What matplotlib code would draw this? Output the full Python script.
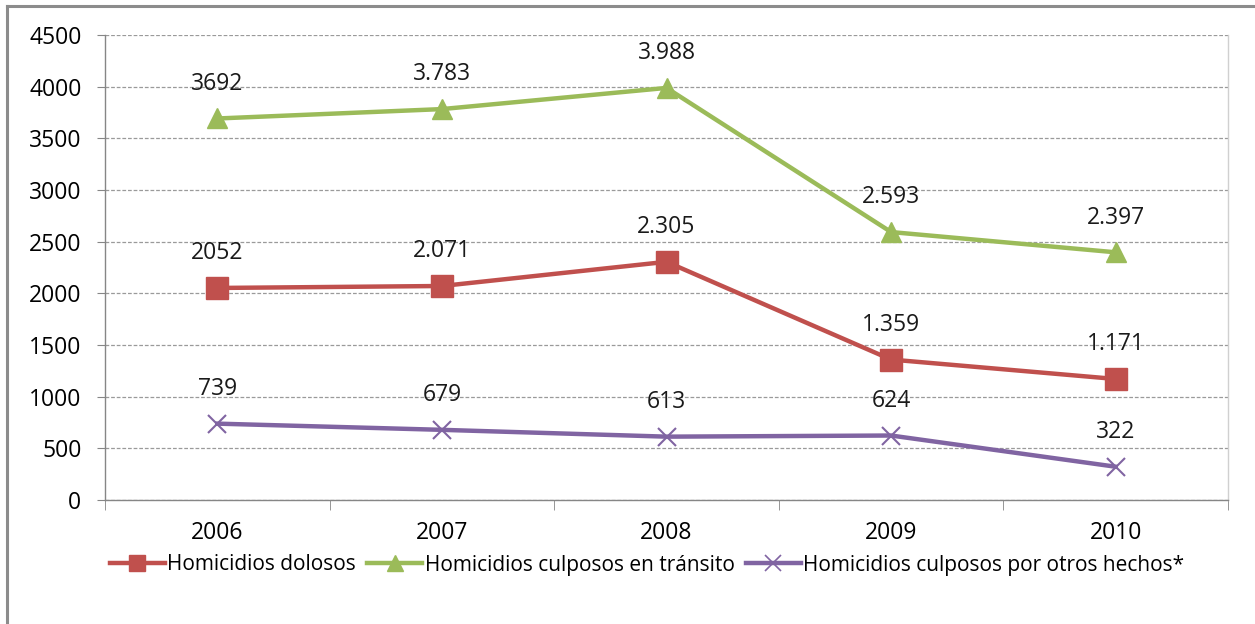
import matplotlib
matplotlib.use("Agg")
import matplotlib.pyplot as plt
from matplotlib.lines import Line2D
from matplotlib import font_manager

years = ["2006", "2007", "2008", "2009", "2010"]
dolosos = [2052, 2071, 2305, 1359, 1171]
transito = [3692, 3783, 3988, 2593, 2397]
otros = [739, 679, 613, 624, 322]
lbl_dolosos = ["2052", "2.071", "2.305", "1.359", "1.171"]
lbl_transito = ["3692", "3.783", "3.988", "2.593", "2.397"]
lbl_otros = ["739", "679", "613", "624", "322"]
names = ["Homicidios dolosos", "Homicidios culposos en tránsito",
         "Homicidios culposos por otros hechos*"]

avail = {f.name for f in font_manager.fontManager.ttflist}
fam = [f for f in ["Liberation Sans Narrow", "Open Sans", "DejaVu Sans"] if f in avail]
plt.rcParams['font.family'] = fam

fig = plt.figure(figsize=(12.55, 6.24), dpi=100)
ax = fig.add_axes([105/1255, 124/624, (1228-105)/1255, (500-35)/624])

x = list(range(len(years)))
red, green, purple = "#C0504D", "#9BBB59", "#8064A2"
ax.plot(x, dolosos, color=red, lw=3.2, marker="s", ms=15.5, zorder=3)
ax.plot(x, transito, color=green, lw=3.2, marker="^", ms=15, zorder=3)
ax.plot(x, otros, color=purple, lw=3.2, marker="x", ms=13, mew=1.5, zorder=3)

for vals, lbls in [(dolosos, lbl_dolosos), (transito, lbl_transito), (otros, lbl_otros)]:
    for xi, v, l in zip(x, vals, lbls):
        ax.annotate(l, (xi, v), xytext=(0, 25), textcoords="offset points",
                    ha="center", va="center", fontsize=16.5, color="#1a1a1a")

ax.set_xlim(-0.5, 4.5)
ax.set_ylim(0, 4500)
ax.set_yticks(range(0, 4501, 500))
ax.set_xticks(x)
ax.set_xticklabels(years)
ax.set_xticks([i - 0.5 for i in range(6)], minor=True)
ax.tick_params(axis="x", which="major", length=0, pad=15, labelsize=16.5)
ax.tick_params(axis="x", which="minor", length=7, color="#868686", direction="out")
ax.tick_params(axis="y", length=6, color="#868686", pad=11, labelsize=16.5)
ax.yaxis.grid(True, linestyle=(0, (3, 1.5)), color="#9a9a9a", lw=0.9)
ax.set_axisbelow(True)
for s in ["left", "bottom"]:
    ax.spines[s].set_color("#868686")
    ax.spines[s].set_linewidth(1.0)
ax.spines["right"].set_color("#d0d0d0")
ax.spines["right"].set_linewidth(1.0)
ax.spines["top"].set_visible(False)

handles = [
    Line2D([], [], color=red, lw=3.2, marker="s", ms=12),
    Line2D([], [], color=green, lw=3.2, marker="^", ms=12),
    Line2D([], [], color=purple, lw=3.2, marker="x", ms=12, mew=1.2),
]
fig.legend(handles, names, loc="center", bbox_to_anchor=(647/1255, 59/624), ncol=3,
           frameon=False, fontsize=15, handlelength=2.64, handletextpad=0.12,
           columnspacing=0.53)

# outer frame of the original chart object
fig.add_artist(Line2D([7/1255, 7/1255], [0, 1 - 6/624], transform=fig.transFigure,
                      color="#8c8c8c", lw=2.2))
fig.add_artist(Line2D([7/1255, 1], [1 - 6/624, 1 - 6/624], transform=fig.transFigure,
                      color="#8c8c8c", lw=2.2))

fig.savefig("out.png", dpi=100)
